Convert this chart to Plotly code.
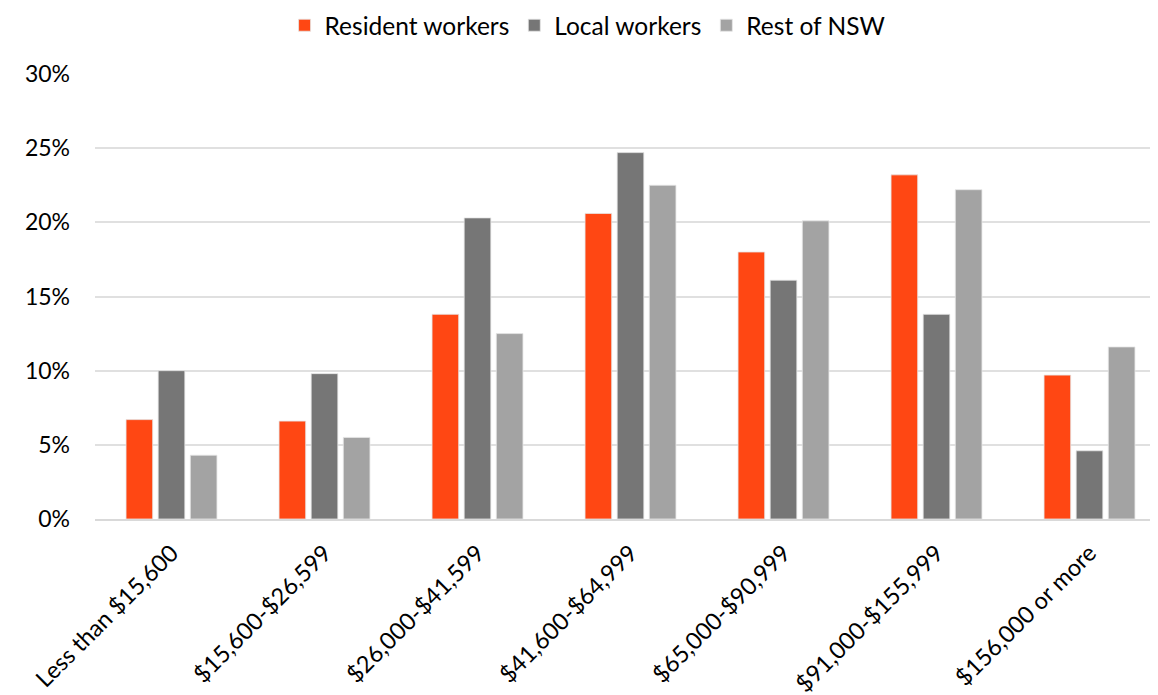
import plotly.graph_objects as go

categories = ["Less than $15,600", "$15,600-$26,599", "$26,000-$41,599",
              "$41,600-$64,999", "$65,000-$90,999", "$91,000-$155,999",
              "$156,000 or more"]
resident = [6.7, 6.6, 13.8, 20.6, 18.0, 23.2, 9.7]
local = [10.0, 9.8, 20.3, 24.7, 16.1, 13.8, 4.6]
rest_nsw = [4.3, 5.5, 12.5, 22.5, 20.1, 22.2, 11.6]
series_names = ["Resident workers", "Local workers", "Rest of NSW"]
colors = ["#FF4713", "#767676", "#A3A3A3"]
y_ticks = [0, 5, 10, 15, 20, 25, 30]

fig = go.Figure()
for name, vals, col in zip(series_names, [resident, local, rest_nsw], colors):
    fig.add_trace(go.Bar(
        x=categories, y=[v / 100 for v in vals], name=name,
        marker=dict(color=col, line=dict(color="rgba(230,230,230,0.8)", width=1)),
    ))

font_family = "Lato, 'Open Sans', sans-serif"
fig.update_layout(
    width=1158, height=695,
    margin=dict(l=87, r=0, t=66, b=184, autoexpand=False),
    paper_bgcolor="white", plot_bgcolor="white",
    barmode="group", bargap=0.37, bargroupgap=0.17,
    font=dict(family=font_family, size=20, color="#000000"),
    legend=dict(orientation="h", x=0.177, xanchor="left", y=1.16, yanchor="top",
                font=dict(size=24.5), itemwidth=30, tracegroupgap=0),
    xaxis=dict(tickangle=-45, showgrid=False, showline=True, linecolor="#D9D9D9",
               linewidth=2, ticks="", tickfont=dict(size=23.5), automargin=False,
               range=[-0.5, 6.5], ticklabelstandoff=9),
    yaxis=dict(range=[0, 0.30], tickvals=[t / 100 for t in y_ticks],
               ticktext=[f"{t}%" for t in y_ticks], showgrid=True,
               gridcolor="#E0E0E0", gridwidth=2, zeroline=False, automargin=False,
               ticklabelstandoff=24, tickfont=dict(size=23)),
)
fig.write_html("out.html")
